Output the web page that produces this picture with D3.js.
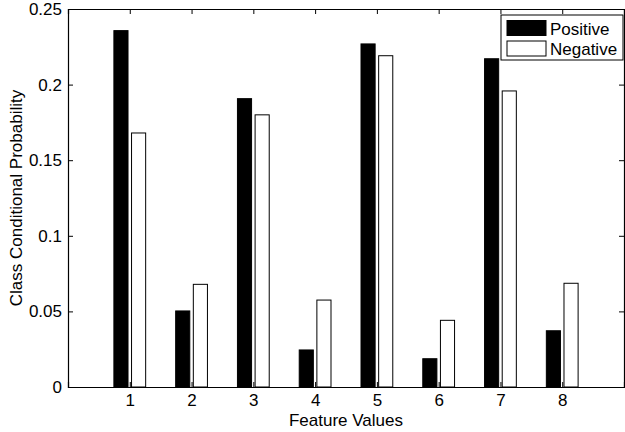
<!DOCTYPE html>
<html>
<head>
<meta charset="utf-8">
<script src="https://cdn.jsdelivr.net/npm/d3@7"></script>
<style>
  body { margin: 0; background: #fff; }
  text { font-family: "Liberation Sans", Arial, sans-serif; }
</style>
</head>
<body>
<svg id="chart" width="625" height="432"></svg>
<script>
// donnees
var categories = [1, 2, 3, 4, 5, 6, 7, 8];
var positive = [0.2357, 0.0503, 0.1907, 0.0245, 0.2269, 0.0187, 0.2171, 0.0372];
var negative = [0.168, 0.0679, 0.180, 0.0575, 0.2191, 0.0441, 0.1958, 0.0686];
var seriesNames = ["Positive", "Negative"];
var yTicks = [0, 0.05, 0.1, 0.15, 0.2, 0.25];
var yTickLabels = ["0", "0.05", "0.1", "0.15", "0.2", "0.25"];

var svgWidth = 625, svgHeight = 432;
var margin = { top: 9, right: 1, bottom: 45, left: 68 };
var width = svgWidth - margin.left - margin.right;
var height = svgHeight - margin.top - margin.bottom;
var fs = 17;

var svg = d3.select("#chart");
var g = svg.append("g")
  .attr("transform", "translate(" + margin.left + "," + margin.top + ")");

var x = d3.scaleLinear().domain([0, 9]).range([0, width]);
var y = d3.scaleLinear().domain([0, 0.25]).range([height, 0]);

// barres groupees facon matlab
var groupWidth = 2 / 3.5;
var series = d3.scaleBand().domain(seriesNames)
  .range([-groupWidth / 2, groupWidth / 2]).paddingInner(0.2).paddingOuter(0.1);

var data = [positive, negative];
var fills = ["#000", "#fff"];

data.forEach(function (vals, s) {
  g.selectAll("rect.s" + s)
    .data(vals)
    .enter()
    .append("rect")
    .attr("class", "s" + s)
    .attr("x", function (d, i) { return x(categories[i] + series(seriesNames[s])); })
    .attr("width", function () { return x(series.bandwidth()) - x(0); })
    .attr("y", function (d) { return y(d); })
    .attr("height", function (d) { return y(0) - y(d); })
    .attr("fill", fills[s])
    .attr("stroke", "#000")
    .attr("stroke-width", 1);
});

// axes
var axB = g.append("g")
  .attr("transform", "translate(0," + height + ")")
  .call(d3.axisBottom(x).tickValues(categories).tickSize(-5).tickPadding(7).tickFormat(d3.format("d")));
var axT = g.append("g")
  .call(d3.axisTop(x).tickValues(categories).tickSize(-5).tickFormat(""));
var axL = g.append("g")
  .call(d3.axisLeft(y).tickValues(yTicks).tickSize(-5).tickPadding(6)
    .tickFormat(function (d, i) { return yTickLabels[i]; }));
var axR = g.append("g")
  .attr("transform", "translate(" + width + ",0)")
  .call(d3.axisRight(y).tickValues(yTicks).tickSize(-5).tickFormat(""));

[axB, axT, axL, axR].forEach(function (a) {
  a.select(".domain").attr("stroke", "#000").attr("stroke-width", 1.2);
  a.selectAll(".tick line").attr("stroke", "#000");
  a.selectAll("text").attr("font-size", fs).attr("fill", "#000")
    .attr("font-family", "Liberation Sans, Arial, sans-serif");
});
axB.selectAll("text").attr("dy", "0.71em");

// titres des axes
svg.append("text")
  .attr("x", margin.left + x(4.5))
  .attr("y", 426)
  .attr("text-anchor", "middle")
  .attr("font-size", fs)
  .text("Feature Values");

svg.append("text")
  .attr("transform", "translate(22," + (margin.top + height / 2) + ") rotate(-90)")
  .attr("text-anchor", "middle")
  .attr("font-size", fs)
  .text("Class Conditional Probability");

// legende
var leg = svg.append("g").attr("transform", "translate(501,15)");
leg.append("rect")
  .attr("width", 122).attr("height", 45)
  .attr("fill", "#fff").attr("stroke", "#000").attr("stroke-width", 1);
seriesNames.forEach(function (name, i) {
  leg.append("rect")
    .attr("x", 6).attr("y", 5.5 + 20.5 * i)
    .attr("width", 39).attr("height", 15)
    .attr("fill", fills[i]).attr("stroke", "#000");
  leg.append("text")
    .attr("x", 49).attr("y", 19.5 + 20.5 * i)
    .attr("font-size", fs)
    .text(name);
});
</script>
</body>
</html>
